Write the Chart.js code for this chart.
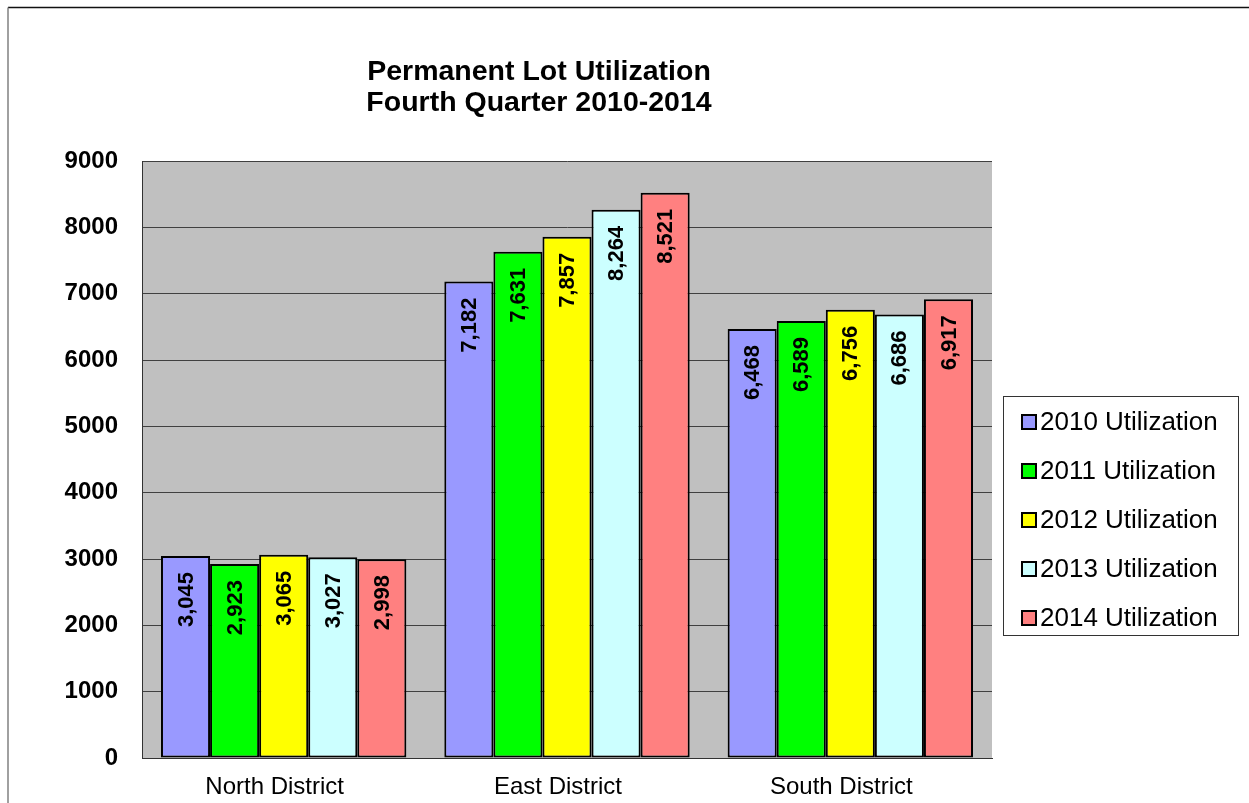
<!DOCTYPE html>
<html>
<head>
<meta charset="utf-8">
<script src="https://cdn.jsdelivr.net/npm/chart.js@4.4.1/dist/chart.umd.min.js"></script>
<style>
html,body{margin:0;padding:0;background:#fff;}
canvas{display:block;}
</style>
</head>
<body>
<canvas id="c" width="1249" height="803"></canvas>
<script>
const categories = ["North District", "East District", "South District"];
const seriesNames = ["2010 Utilization", "2011 Utilization", "2012 Utilization", "2013 Utilization", "2014 Utilization"];
const util2010 = [3045, 7182, 6468];
const util2011 = [2923, 7631, 6589];
const util2012 = [3065, 7857, 6756];
const util2013 = [3027, 8264, 6686];
const util2014 = [2998, 8521, 6917];
const seriesColors = ["#9999FF", "#00FF00", "#FFFF00", "#CCFFFF", "#FF8080"];
const yTicks = [0, 1000, 2000, 3000, 4000, 5000, 6000, 7000, 8000, 9000];
const titleLines = ["Permanent Lot Utilization", "Fourth Quarter 2010-2014"];

const FONT = '"Liberation Sans", Arial, Helvetica, sans-serif';
const allSeries = [util2010, util2011, util2012, util2013, util2014];

const bgPlugin = {
  id: 'bg',
  beforeDraw(chart) {
    const ctx = chart.ctx, a = chart.chartArea;
    ctx.save();
    ctx.fillStyle = '#ffffff';
    ctx.fillRect(0, 0, chart.width, chart.height);
    ctx.fillStyle = '#C0C0C0';
    ctx.fillRect(a.left, a.top, a.right - a.left, a.bottom - a.top);
    ctx.strokeStyle = '#111';
    ctx.lineWidth = 1.5;
    ctx.beginPath();
    ctx.moveTo(8, 7.5); ctx.lineTo(chart.width, 7.5);
    ctx.stroke();
    ctx.strokeStyle = '#808080';
    ctx.lineWidth = 1.5;
    ctx.beginPath();
    ctx.moveTo(8, 7.5); ctx.lineTo(8, chart.height);
    ctx.stroke();
    ctx.restore();
  }
};

const labelPlugin = {
  id: 'vlabels',
  afterDatasetsDraw(chart) {
    const ctx = chart.ctx;
    ctx.save();
    ctx.font = 'bold 22px ' + FONT;
    ctx.fillStyle = '#000';
    ctx.textAlign = 'right';
    ctx.textBaseline = 'middle';
    chart.data.datasets.forEach((ds, i) => {
      const meta = chart.getDatasetMeta(i);
      meta.data.forEach((el, j) => {
        const v = ds.data[j];
        ctx.save();
        ctx.translate(el.x + 1, el.y + 16);
        ctx.rotate(-Math.PI / 2);
        ctx.fillText(v.toLocaleString('en-US'), 0, 0);
        ctx.restore();
      });
    });
    ctx.restore();
  }
};

const titlePlugin = {
  id: 'ttl',
  afterDraw(chart) {
    const ctx = chart.ctx;
    ctx.save();
    ctx.font = 'bold 28.5px ' + FONT;
    ctx.fillStyle = '#000';
    ctx.textAlign = 'center';
    ctx.textBaseline = 'alphabetic';
    ctx.fillText(titleLines[0], 539, 80);
    ctx.fillText(titleLines[1], 539, 111);
    ctx.restore();
  }
};

const legendPlugin = {
  id: 'lgd',
  afterDraw(chart) {
    const ctx = chart.ctx;
    ctx.save();
    ctx.strokeStyle = '#333';
    ctx.lineWidth = 1;
    ctx.strokeRect(1003.5, 396.5, 235, 239);
    ctx.font = '26px ' + FONT;
    ctx.textAlign = 'left';
    ctx.textBaseline = 'middle';
    chart.data.datasets.forEach((ds, i) => {
      const cy = 422 + i * 49;
      ctx.fillStyle = ds.backgroundColor;
      ctx.fillRect(1022, cy - 7, 14, 14);
      ctx.strokeStyle = '#000';
      ctx.lineWidth = 2;
      ctx.strokeRect(1022, cy - 7, 14, 14);
      ctx.fillStyle = '#000';
      ctx.fillText(ds.label, 1040, cy + 1);
    });
    ctx.restore();
  }
};

new Chart(document.getElementById('c'), {
  type: 'bar',
  data: {
    labels: categories,
    datasets: seriesNames.map((n, i) => ({
      label: n,
      data: allSeries[i],
      backgroundColor: seriesColors[i],
      borderColor: '#000',
      borderWidth: 2,
      borderSkipped: false,
      categoryPercentage: 0.866,
      barPercentage: 1.0
    }))
  },
  options: {
    responsive: false,
    devicePixelRatio: 1,
    animation: false,
    layout: { padding: { top: 161, right: 257, left: 0, bottom: 0 } },
    plugins: { legend: { display: false }, title: { display: false }, tooltip: { enabled: false } },
    scales: {
      x: {
        grid: { display: false, drawTicks: false },
        border: { display: true, color: '#333', width: 1 },
        ticks: { font: { family: FONT, size: 24 }, color: '#000', padding: 15, labelOffset: -9 },
        afterFit(s) { s.height = 45; }
      },
      y: {
        min: 0, max: 9000,
        afterBuildTicks(s) { s.ticks = yTicks.map(v => ({ value: v })); },
        grid: { color: '#404040', lineWidth: 1, drawTicks: false },
        border: { display: true, color: '#333', width: 1 },
        ticks: {
          font: { family: FONT, size: 24, weight: 'bold' }, color: '#000', padding: 24,
          callback: (v) => String(v)
        },
        afterFit(s) { s.width = 142; }
      }
    }
  },
  plugins: [bgPlugin, labelPlugin, titlePlugin, legendPlugin]
});
</script>
</body>
</html>
